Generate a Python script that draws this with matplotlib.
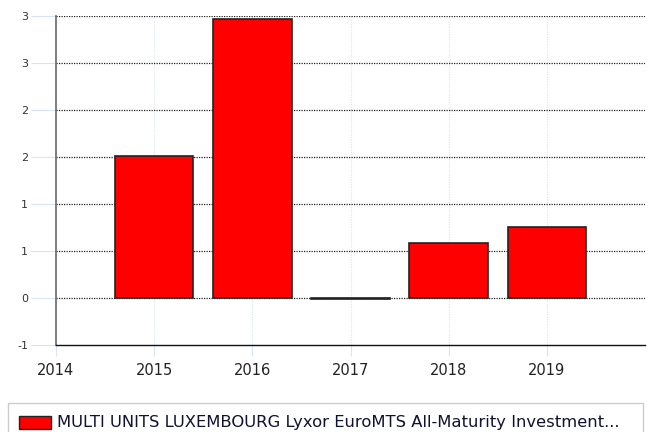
import matplotlib
matplotlib.use("Agg")
import matplotlib.pyplot as plt
from matplotlib.patches import Rectangle

years = [2015, 2016, 2017, 2018, 2019]
values = [1.51, 2.97, -0.01, 0.58, 0.76]
yticks = [-0.5, 0, 0.5, 1, 1.5, 2, 2.5, 3]
ytick_labels = ["-1", "0", "1", "1", "2", "2", "3", "3"]
xticks = [2014, 2015, 2016, 2017, 2018, 2019]
series_name = "MULTI UNITS LUXEMBOURG Lyxor EuroMTS All-Maturity Investment..."

plt.rcParams['font.family'] = ['DejaVu Sans']
fig = plt.figure(figsize=(6.5, 4.32), dpi=100)
ax = fig.add_axes([56/650, 1-345/432, 589/650, 329/432])

ax.bar(years, values, width=0.8, color="#ff0000", edgecolor="#222222", linewidth=1.2, zorder=3)

ax.set_xlim(2014, 2020)
ax.set_ylim(-0.5, 3)
ax.set_yticks(yticks)
ax.set_yticklabels(ytick_labels, fontsize=8, color="#333333")
ax.set_xticks(xticks)
ax.set_xticklabels([str(x) for x in xticks], fontsize=10.5, color="#222222")

for y in yticks[1:]:
    ax.axhline(y, color="#222222", linestyle=(0, (1, 1)), linewidth=0.9, zorder=1)
for x in xticks[1:]:
    ax.axvline(x, color="#dde8f5", linestyle=(0, (1, 1)), linewidth=0.9, zorder=0)

ax.tick_params(axis="y", length=18, color="#d6e4f5", pad=2)
ax.tick_params(axis="x", length=8, color="#d6e4f5", pad=5)
for s in ["top", "right"]:
    ax.spines[s].set_visible(False)
ax.spines["left"].set_color("#666666")
ax.spines["left"].set_linewidth(1.2)
ax.spines["bottom"].set_color("#111111")
ax.spines["bottom"].set_linewidth(1.0)

# legend box
fig.patches.append(Rectangle((8/650, -0.01), 635/650, (432-403)/432 + 0.01, transform=fig.transFigure,
                             facecolor="white", edgecolor="#cccccc", linewidth=1))
fig.patches.append(Rectangle((19/650, 1-429/432), 32/650, 13/432, transform=fig.transFigure,
                             facecolor="#ff0000", edgecolor="#222222", linewidth=1))
fig.text(57/650, 1-422.5/432, series_name, fontsize=11.8, va="center", ha="left", color="#111133")

fig.savefig("out.png", dpi=100)
